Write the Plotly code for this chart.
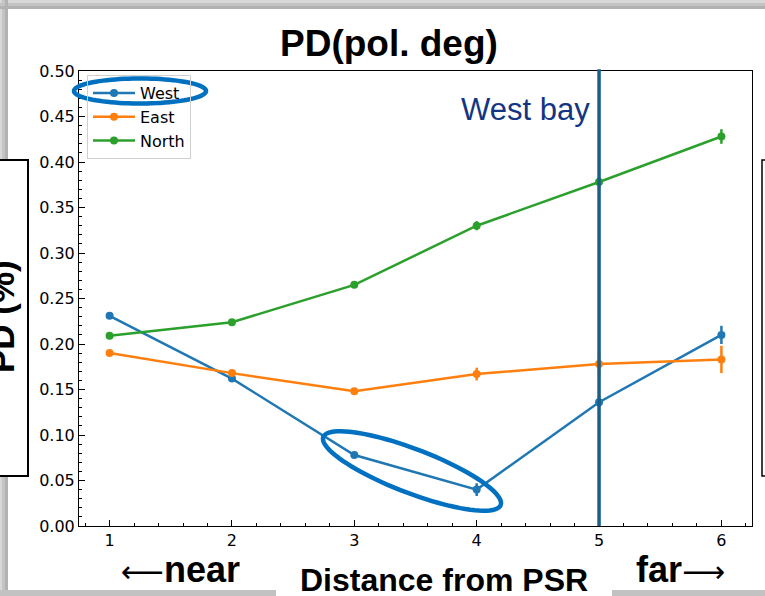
import math
import plotly.graph_objects as go

# Polarization degree versus distance from the PSR, per region
distance = [1, 2, 3, 4, 5, 6]
west = [0.231, 0.162, 0.078, 0.040, 0.136, 0.210]
west_err = [0.003, 0.003, 0.003, 0.007, 0.007, 0.010]
east = [0.190, 0.168, 0.148, 0.167, 0.178, 0.183]
east_err = [0.003, 0.003, 0.003, 0.007, 0.013, 0.015]
north = [0.209, 0.224, 0.265, 0.330, 0.378, 0.428]
north_err = [0.003, 0.003, 0.003, 0.005, 0.006, 0.008]

series_names = ["West", "East", "North"]
series_colors = ["#1f77b4", "#ff7f0e", "#2ca02c"]
bay_position = 5

W, H = 765, 596
ML, MR, MT, MB = 79, 13, 71, 70
PW, PH = W - ML - MR, H - MT - MB


def px(x):
    return (x - ML) / PW


def py(y):
    return (H - MB - y) / PH


def ellipse_path(cx, cy, a, b, ang_deg, n=90):
    th = math.radians(ang_deg)
    pts = []
    for i in range(n + 1):
        t = 2 * math.pi * i / n
        x = cx + a * math.cos(t) * math.cos(th) - b * math.sin(t) * math.sin(th)
        y = cy + a * math.cos(t) * math.sin(th) + b * math.sin(t) * math.cos(th)
        pts.append(f"{px(x):.5f},{py(y):.5f}")
    return "M" + " L".join(pts) + " Z"


fig = go.Figure()
for name, ys, errs, col in zip(series_names, [west, east, north],
                               [west_err, east_err, north_err], series_colors):
    fig.add_trace(go.Scatter(
        x=distance, y=ys, name=name, legendgroup=name, mode="lines+markers",
        line=dict(color=col, width=2.5),
        marker=dict(color=col, size=8),
        error_y=dict(type="data", array=errs, color=col, thickness=2.5, width=0),
    ))

shapes = []
# slide drop shadow
for i, c in enumerate(["#d8d8d8", "#c4c4c4", "#b2b2b2"]):
    shapes.append(dict(type="rect", xref="paper", yref="paper",
                       x0=px(0), x1=px(W), y0=py(3 * i), y1=py(3 * i + 3),
                       fillcolor=c, line=dict(width=0), layer="below"))
    shapes.append(dict(type="rect", xref="paper", yref="paper",
                       x0=px(3 * i - 1), x1=px(3 * i + 2), y0=py(0), y1=py(H),
                       fillcolor=c, line=dict(width=0), layer="below"))
for x0, x1 in [(0, 276), (612, W)]:
    shapes.append(dict(type="rect", xref="paper", yref="paper",
                       x0=px(x0), x1=px(x1), y0=py(590), y1=py(H),
                       fillcolor="#c2c2c2", line=dict(width=0), layer="below"))
# neighbouring boxes on the slide
shapes.append(dict(type="rect", xref="paper", yref="paper",
                   x0=px(-10), x1=px(28), y0=py(160), y1=py(476),
                   fillcolor="white", line=dict(color="black", width=2)))
shapes.append(dict(type="rect", xref="paper", yref="paper",
                   x0=px(762), x1=px(780), y0=py(160), y1=py(476),
                   fillcolor="white", line=dict(color="black", width=1.5)))
# West bay marker
shapes.append(dict(type="line", xref="x", yref="paper", x0=bay_position, x1=bay_position,
                   y0=0, y1=1.004, line=dict(color="#1b5e88", width=3.5)))
# highlight ellipses
shapes.append(dict(type="path", xref="paper", yref="paper",
                   path=ellipse_path(140, 91, 66, 12.5, 0),
                   line=dict(color="#0070c0", width=4.5)))
shapes.append(dict(type="path", xref="paper", yref="paper",
                   path=ellipse_path(412, 471, 95, 22, 21),
                   line=dict(color="#0070c0", width=4.5)))

arrow_style = "font-family:'DejaVu Sans';font-weight:normal;font-size:30px"
annotations = [
    dict(text="<b>PD(pol. deg)</b>", x=px(389), y=py(43), xref="paper", yref="paper",
         showarrow=False, xanchor="center", yanchor="middle",
         font=dict(family="Liberation Sans", size=37, color="black")),
    dict(text="West bay", x=px(459), y=py(109), xref="paper", yref="paper",
         showarrow=False, xanchor="left", yanchor="middle",
         font=dict(family="Liberation Sans", size=31, color="#133583")),
    dict(text="<b>Distance from PSR</b>", x=px(444), y=py(580), xref="paper", yref="paper",
         showarrow=False, xanchor="center", yanchor="middle",
         font=dict(family="Liberation Sans", size=32, color="black")),
    dict(text=f"<span style=\"{arrow_style}\">⟵</span><b>near</b>", x=px(119), y=py(569),
         xref="paper", yref="paper", showarrow=False, xanchor="left", yanchor="middle",
         font=dict(family="Liberation Sans", size=36, color="black")),
    dict(text=f"<b>far</b><span style=\"{arrow_style}\">⟶</span>", x=px(634), y=py(569),
         xref="paper", yref="paper", showarrow=False, xanchor="left", yanchor="middle",
         font=dict(family="Liberation Sans", size=36, color="black")),
    dict(text="<b>PD (%)</b>", x=px(1), y=py(317), xref="paper", yref="paper",
         showarrow=False, xanchor="center", yanchor="middle", textangle=-90,
         font=dict(family="Liberation Sans", size=35, color="black")),
]

tick_font = dict(family="DejaVu Sans", size=16, color="black")
fig.update_layout(
    width=W, height=H,
    margin=dict(l=ML, r=MR, t=MT, b=MB),
    paper_bgcolor="white", plot_bgcolor="white",
    showlegend=True,
    legend=dict(x=px(87), y=py(75), xanchor="left", yanchor="top",
                bgcolor="rgba(0,0,0,0)", bordercolor="#d0d0d0", borderwidth=1,
                font=dict(family="DejaVu Sans", size=16, color="black"),
                traceorder="grouped", tracegroupgap=0, itemwidth=42),
    xaxis=dict(range=[0.75, 6.25], tickmode="linear", tick0=1, dtick=1,
               ticks="inside", ticklen=6, tickwidth=1, tickcolor="black",
               showline=True, linecolor="black", linewidth=1, mirror=True,
               showgrid=False, zeroline=False, tickfont=tick_font,
               minor=dict(dtick=0.2, ticks="inside", ticklen=3, tickcolor="black", showgrid=False)),
    yaxis=dict(range=[0, 0.5], tickmode="linear", tick0=0, dtick=0.05, tickformat=".2f",
               ticks="inside", ticklen=6, tickwidth=1, tickcolor="black",
               showline=True, linecolor="black", linewidth=1, mirror=True,
               showgrid=False, zeroline=False, tickfont=tick_font,
               minor=dict(dtick=0.01, ticks="inside", ticklen=3, tickcolor="black", showgrid=False)),
    shapes=shapes,
    annotations=annotations,
)

fig.write_html("out.html")
